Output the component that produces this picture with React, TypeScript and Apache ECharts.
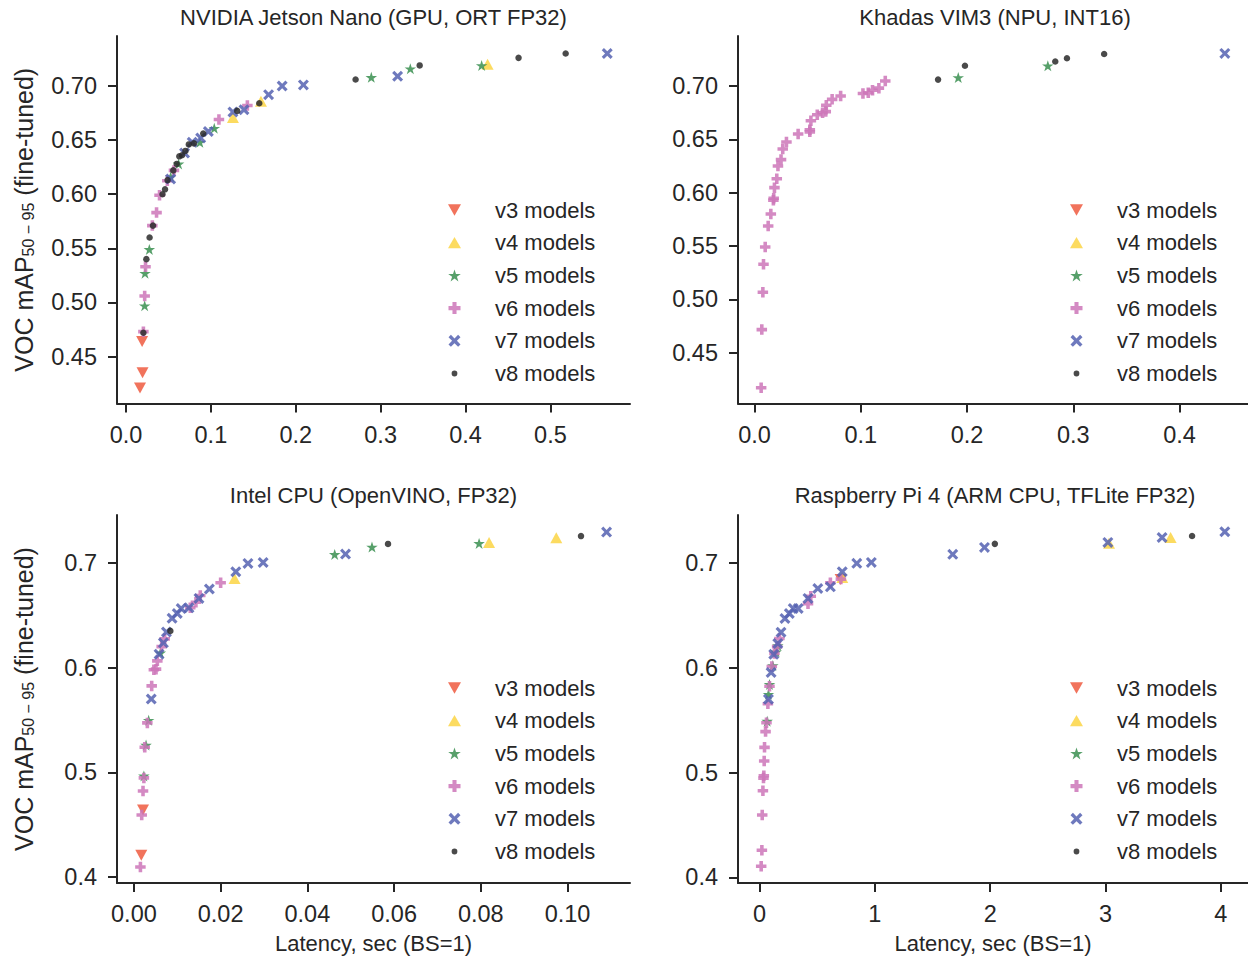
import React, { useEffect, useRef } from "react";
import * as echarts from "echarts";

const FONT = "'Liberation Sans', Arial, Helvetica, sans-serif";
const TXT = "#262626";

const seriesNames = ["v3 models", "v4 models", "v5 models", "v6 models", "v7 models", "v8 models"];
const seriesColors = ["#ee5a40", "#fbd544", "#3a8f50", "#cc76b8", "#5562b2", "#2a2a2a"];

// ---------- NVIDIA Jetson Nano ----------
const nanoV3 = [[0.019, 0.464], [0.0195, 0.435], [0.0165, 0.421]];
const nanoV4 = [[0.126, 0.671], [0.159, 0.686], [0.426, 0.72]];
const nanoV5 = [[0.022, 0.497], [0.0224, 0.527], [0.0275, 0.549], [0.0526, 0.616], [0.062, 0.628], [0.087, 0.648], [0.104, 0.661], [0.289, 0.708], [0.335, 0.716], [0.419, 0.719]];
const nanoV6 = [[0.0205, 0.473], [0.022, 0.506], [0.023, 0.533], [0.031, 0.571], [0.036, 0.583], [0.0395, 0.599], [0.0487, 0.6125], [0.0565, 0.622], [0.1095, 0.669], [0.143, 0.682]];
const nanoV7 = [[0.0526, 0.614], [0.069, 0.638], [0.078, 0.648], [0.088, 0.652], [0.097, 0.658], [0.126, 0.676], [0.139, 0.678], [0.168, 0.692], [0.184, 0.7], [0.209, 0.701], [0.32, 0.709], [0.567, 0.73]];
const nanoV8 = [[0.0205, 0.472], [0.024, 0.54], [0.0278, 0.56], [0.0318, 0.571], [0.043, 0.6], [0.046, 0.6045], [0.049, 0.613], [0.0557, 0.622], [0.0597, 0.628], [0.0628, 0.635], [0.066, 0.636], [0.07, 0.64], [0.074, 0.646], [0.08, 0.647], [0.091, 0.656], [0.131, 0.677], [0.157, 0.684], [0.2705, 0.706], [0.346, 0.719], [0.4625, 0.726], [0.518, 0.73]];

// ---------- Khadas VIM3 ----------
const vimV3: number[][] = [];
const vimV4: number[][] = [];
const vimV5 = [[0.1917, 0.708], [0.276, 0.719]];
const vimV6 = [[0.0062, 0.417], [0.0068, 0.4716], [0.0078, 0.5066], [0.0084, 0.5328], [0.01, 0.549], [0.0128, 0.5688], [0.0153, 0.58], [0.0177, 0.593], [0.018, 0.5947], [0.0187, 0.6047], [0.0209, 0.613], [0.022, 0.625], [0.0249, 0.631], [0.0265, 0.641], [0.03, 0.6475], [0.041, 0.655], [0.052, 0.657], [0.052, 0.659], [0.053, 0.6675], [0.059, 0.673], [0.064, 0.675], [0.067, 0.676], [0.0675, 0.682], [0.073, 0.6875], [0.081, 0.6906], [0.102, 0.693], [0.107, 0.6937], [0.111, 0.696], [0.117, 0.698], [0.123, 0.7047]];
const vimV7 = [[0.4426, 0.7306]];
const vimV8 = [[0.1727, 0.706], [0.198, 0.719], [0.283, 0.723], [0.294, 0.726], [0.329, 0.73]];

// ---------- Intel CPU ----------
const intelV3 = [[0.0021, 0.464], [0.0017, 0.421]];
const intelV4 = [[0.0232, 0.685], [0.0819, 0.7194], [0.0974, 0.724]];
const intelV5 = [[0.0023, 0.4966], [0.0028, 0.526], [0.0034, 0.5497], [0.0061, 0.614], [0.0463, 0.708], [0.0549, 0.715], [0.0796, 0.7185]];
const intelV6 = [[0.0015, 0.4097], [0.0018, 0.4593], [0.0021, 0.4822], [0.0023, 0.4947], [0.0025, 0.524], [0.0031, 0.5472], [0.0041, 0.5825], [0.0046, 0.598], [0.0051, 0.5985], [0.0054, 0.6064], [0.0064, 0.62], [0.0071, 0.6274], [0.013, 0.657], [0.0143, 0.6624], [0.0153, 0.6688], [0.02, 0.681]];
const intelV7 = [[0.004, 0.57], [0.0058, 0.6128], [0.0068, 0.6236], [0.0075, 0.634], [0.0088, 0.647], [0.01, 0.6516], [0.0109, 0.6564], [0.0127, 0.657], [0.015, 0.666], [0.0174, 0.675], [0.0235, 0.6914], [0.0263, 0.6994], [0.0298, 0.7003], [0.0488, 0.7083], [0.109, 0.7293]];
const intelV8 = [[0.0084, 0.635], [0.0586, 0.718], [0.1031, 0.7255]];

// ---------- Raspberry Pi 4 ----------
const rpiV3 = [[0.703, 0.684]];
const rpiV4 = [[0.717, 0.686], [3.03, 0.7185], [3.564, 0.724]];
const rpiV5 = [[0.066, 0.549], [0.077, 0.5746], [0.086, 0.584], [0.115, 0.602], [0.143, 0.615], [0.158, 0.621]];
const rpiV6 = [[0.014, 0.4106], [0.02, 0.426], [0.023, 0.4596], [0.029, 0.4826], [0.034, 0.4947], [0.037, 0.497], [0.04, 0.511], [0.043, 0.524], [0.052, 0.539], [0.06, 0.5475], [0.072, 0.5656], [0.086, 0.5822], [0.106, 0.601], [0.129, 0.6134], [0.152, 0.62], [0.172, 0.6277], [0.42, 0.661], [0.444, 0.668], [0.614, 0.681], [0.705, 0.6844]];
const rpiV7 = [[0.077, 0.5698], [0.1, 0.5953], [0.123, 0.6128], [0.158, 0.623], [0.186, 0.6338], [0.22, 0.6468], [0.258, 0.6516], [0.292, 0.6564], [0.335, 0.6564], [0.42, 0.666], [0.505, 0.6755], [0.614, 0.677], [0.717, 0.6914], [0.843, 0.6994], [0.969, 0.7003], [1.675, 0.708], [1.95, 0.7146], [3.02, 0.7194], [3.49, 0.724], [4.034, 0.7296]];
const rpiV8 = [[2.04, 0.718], [3.75, 0.7255]];

// ---------- axes / ticks ----------
const nanoXTicks = [0, 0.1, 0.2, 0.3, 0.4, 0.5];
const nanoYTicks = [0.45, 0.5, 0.55, 0.6, 0.65, 0.7];
const vimXTicks = [0, 0.1, 0.2, 0.3, 0.4];
const vimYTicks = [0.45, 0.5, 0.55, 0.6, 0.65, 0.7];
const intelXTicks = [0, 0.02, 0.04, 0.06, 0.08, 0.1];
const intelYTicks = [0.4, 0.5, 0.6, 0.7];
const rpiXTicks = [0, 1, 2, 3, 4];
const rpiYTicks = [0.4, 0.5, 0.6, 0.7];

const panelTitles = [
  "NVIDIA Jetson Nano (GPU, ORT FP32)",
  "Khadas VIM3 (NPU, INT16)",
  "Intel CPU (OpenVINO, FP32)",
  "Raspberry Pi 4 (ARM CPU, TFLite FP32)",
];

const SYM_DOWN = "path://M0,0L10,0L5,8.7Z";
const SYM_UP = "path://M5,0L10,8.7L0,8.7Z";
const SYM_STAR = "path://M5,0L6.123,3.455L9.755,3.455L6.817,5.59L7.939,9.045L5,6.91L2.061,9.045L3.183,5.59L0.245,3.455L3.877,3.455Z";
const SYM_PLUS = "path://M3.3,0H6.7V3.3H10V6.7H6.7V10H3.3V6.7H0V3.3H3.3Z";
const SYM_X = "path://M0,2L2,0L5,3L8,0L10,2L7,5L10,8L8,10L5,7L2,10L0,8L3,5Z";
const SYM_DOT_LEGEND = "path://M0,0L0.001,0.001L0,0.002ZM10,10L10.001,10.001L10,10.002ZM2.6,5A2.4,2.4 0 1 1 7.4,5A2.4,2.4 0 1 1 2.6,5Z";

const symbols = [SYM_DOWN, SYM_UP, SYM_STAR, SYM_PLUS, SYM_X, "circle"];
const legendIcons = [SYM_DOWN, SYM_UP, SYM_STAR, SYM_PLUS, SYM_X, SYM_DOT_LEGEND];
const symbolSizes: any[] = [[12, 11], [12, 11], [11.5, 11], 10.5, 11, 6.5];

const panels = [
  { data: [nanoV3, nanoV4, nanoV5, nanoV6, nanoV7, nanoV8], xTicks: nanoXTicks, yTicks: nanoYTicks, xd: 1, yd: 2, xr: [-0.0106, 0.5938], yr: [0.4066, 0.7462] },
  { data: [vimV3, vimV4, vimV5, vimV6, vimV7, vimV8], xTicks: vimXTicks, yTicks: vimYTicks, xd: 1, yd: 2, xr: [-0.0156, 0.4644], yr: [0.4023, 0.7469] },
  { data: [intelV3, intelV4, intelV5, intelV6, intelV7, intelV8], xTicks: intelXTicks, yTicks: intelYTicks, xd: 2, yd: 1, xr: [-0.0039, 0.1144], yr: [0.3944, 0.7456] },
  { data: [rpiV3, rpiV4, rpiV5, rpiV6, rpiV7, rpiV8], xTicks: rpiXTicks, yTicks: rpiYTicks, xd: 0, yd: 1, xr: [-0.187, 4.235], yr: [0.3947, 0.7455] },
];

const grids = [
  { left: 117, top: 36, width: 513, height: 367.5 },
  { left: 738, top: 36, width: 514, height: 367.5 },
  { left: 117, top: 515, width: 513, height: 368 },
  { left: 738, top: 515, width: 514, height: 368 },
];

export default function App() {
  const ref = useRef<HTMLDivElement>(null);
  useEffect(() => {
    if (!ref.current) return;
    const chart = echarts.init(ref.current, undefined, { renderer: "svg" });

    const xAxes = panels.map((p, i) => ({
      type: "value",
      gridIndex: i,
      min: p.xr[0],
      max: p.xr[1],
      splitLine: { show: false },
      axisLine: { show: true, onZero: false, lineStyle: { color: TXT, width: 2 } },
      axisTick: { show: true, length: 9, lineStyle: { color: TXT, width: 2 }, customValues: p.xTicks },
      axisLabel: {
        customValues: p.xTicks,
        formatter: (v: number) => v.toFixed(p.xd),
        fontSize: 23.5,
        color: TXT,
        fontFamily: FONT,
        margin: 19,
      },
      name: i >= 2 ? "Latency, sec (BS=1)" : "",
      nameLocation: "middle",
      nameGap: 49,
      nameTextStyle: { fontSize: 22, color: TXT, fontFamily: FONT },
    }));

    const yAxes = panels.map((p, i) => ({
      type: "value",
      gridIndex: i,
      min: p.yr[0],
      max: p.yr[1],
      splitLine: { show: false },
      axisLine: { show: true, onZero: false, lineStyle: { color: TXT, width: 2 } },
      axisTick: { show: true, length: 9, lineStyle: { color: TXT, width: 2 }, customValues: p.yTicks },
      axisLabel: {
        customValues: p.yTicks,
        formatter: (v: number) => v.toFixed(p.yd),
        fontSize: 23.5,
        color: TXT,
        fontFamily: FONT,
        margin: 20,
      },
      name: i % 2 === 0 ? "{a|VOC mAP}{s|50 − 95}{a| (fine-tuned)}" : "",
      nameLocation: "middle",
      nameRotate: 90,
      nameGap: 81,
      nameTextStyle: {
        color: TXT,
        fontFamily: FONT,
        rich: {
          a: { fontSize: 25, lineHeight: 25, color: TXT, fontFamily: FONT },
          s: { fontSize: 16, lineHeight: 16, padding: [3, 0, 0, 0], verticalAlign: "bottom", color: TXT, fontFamily: FONT },
        },
      },
    }));

    const series: any[] = [];
    panels.forEach((p, i) => {
      p.data.forEach((d, k) => {
        series.push({
          type: "scatter",
          name: seriesNames[k],
          xAxisIndex: i,
          yAxisIndex: i,
          data: d,
          symbol: symbols[k],
          symbolSize: symbolSizes[k],
          itemStyle: { color: seriesColors[k], opacity: 0.85 },
          emphasis: { disabled: true },
        });
      });
    });

    const legendData = seriesNames.map((n, k) => ({ name: n, icon: legendIcons[k] }));
    const legendPos = [
      { left: 448, top: 199 },
      { left: 1070, top: 199 },
      { left: 448, top: 677 },
      { left: 1070, top: 677 },
    ];
    const legends = legendPos.map((lp) => ({
      ...lp,
      orient: "vertical",
      padding: 0,
      itemWidth: 13,
      itemHeight: 12,
      itemGap: 10.7,
      selectedMode: false,
      data: legendData,
      textStyle: { fontSize: 22, lineHeight: 22, color: TXT, fontFamily: FONT, padding: [0, 0, 0, 29] },
    }));

    const titleCenters = [
      [373.5, 17.5],
      [995, 17.5],
      [373.5, 495.5],
      [995, 495.5],
    ];
    const graphics = panelTitles.map((t, i) => ({
      type: "text",
      x: titleCenters[i][0],
      y: titleCenters[i][1],
      style: { text: t, align: "center", verticalAlign: "middle", fontSize: 22, fill: TXT, fontFamily: FONT },
    }));

    chart.setOption({
      animation: false,
      backgroundColor: "#ffffff",
      textStyle: { fontFamily: FONT },
      grid: grids,
      xAxis: xAxes,
      yAxis: yAxes,
      legend: legends,
      graphic: graphics,
      series,
    });
    return () => chart.dispose();
  }, []);

  return <div ref={ref} style={{ position: "absolute", left: 0, top: 0, width: 1248, height: 956 }} />;
}
